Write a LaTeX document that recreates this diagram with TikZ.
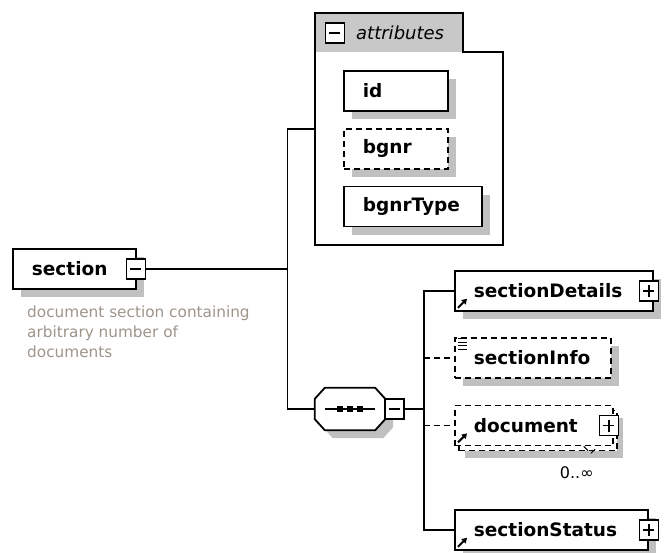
\documentclass[tikz,border=0pt]{standalone}
\usepackage{fontspec}
\setmainfont{DejaVu Sans}
\usepackage{tikz}
\usetikzlibrary{positioning, shadows, arrows.meta}

\definecolor{shadowgray}{RGB}{192,192,192}
\definecolor{hdrgray}{RGB}{200,200,200}
\definecolor{notegray}{RGB}{158,148,138}

\begin{document}
\begin{tikzpicture}[
        x=1pt, y=-1pt,
        every node/.style={inner sep=0pt},
        elembase/.style={
            rectangle, draw=black, fill=white, line width=1.8pt,
            minimum height=40pt, inner xsep=19pt, align=left,
            font=\fontsize{18.5}{22}\selectfont\bfseries
        },
        elem/.style={
            elembase,
            drop shadow={shadow xshift=8pt, shadow yshift=-8pt, fill=shadowgray, opacity=1}
        },
        optional/.style={dash pattern=on 6pt off 4pt},
        toggle/.style={
            rectangle, draw=black, fill=white, line width=1.4pt,
            minimum width=19pt, minimum height=20pt
        },
        minusbox/.style={toggle, path picture={
            \draw[line width=1.4pt] ([xshift=4pt]path picture bounding box.west) -- ([xshift=-4pt]path picture bounding box.east);}},
        plusbox/.style={toggle, path picture={
            \draw[line width=1.4pt] ([xshift=4pt]path picture bounding box.west) -- ([xshift=-4pt]path picture bounding box.east);
            \draw[line width=1.4pt] ([yshift=-4pt]path picture bounding box.north) -- ([yshift=4pt]path picture bounding box.south);}},
        seqbox/.style={rectangle, minimum width=70pt, minimum height=42pt},
        seqline/.style={
            draw=black, fill=white, line width=1.8pt,
            drop shadow={shadow xshift=8pt, shadow yshift=-8pt, fill=shadowgray, opacity=1}
        },
        frame/.style={rectangle, minimum width=188pt, minimum height=232pt},
        hdrtext/.style={font=\fontsize{18}{22}\selectfont\itshape},
        conn/.style={line width=1.8pt},
        refarrow/.style={line width=2pt, -{Triangle[length=5pt, width=6pt]}},
        note/.style={align=left, text=notegray, font=\fontsize{15.3}{20}\selectfont},
        mult/.style={font=\fontsize{16}{20}\selectfont},
    ]
    \useasboundingbox (0,0) rectangle (664,552);

    % attributes group
    \node (attrs) [frame] at (409,129) {};
    \fill[hdrgray] (attrs.north west) rectangle +(148,39);
    \draw[conn] (attrs.north west) -- ++(148,0) -- ++(0,39) -| (attrs.south east) -- (attrs.south west) -- cycle;
    \node (attrminus) [minusbox] at ([shift={(20pt,-20pt)}]attrs.north west) {};
    \node (attrlabel) [hdrtext, right=11pt of attrminus] {attributes};

    \node (id)       [elem, text width=66pt, anchor=north west] at (343,70) {id};
    \node (bgnr)     [elem, optional, text width=66pt, below=16pt of id.south west, anchor=north west] {bgnr};
    \node (bgnrtype) [elem, text width=100pt, below=16pt of bgnr.south west, anchor=north west] {bgnrType};

    % root element
    \node (section)  [elem, text width=85pt, anchor=north west] at (12,248) {section};
    \node (secminus) [minusbox] at ([xshift=-1pt]section.east) {};
    \node (secnote)  [note, anchor=north west] at (27,306)
                     {document section containing\\arbitrary number of\\documents};

    % sequence
    \node (seq)      [seqbox] at (350,409) {};
    \draw[seqline] ([xshift=10pt]seq.north west) -- ([xshift=-10pt]seq.north east)
        -- ([yshift=-11pt]seq.north east) -- ([yshift=11pt]seq.south east)
        -- ([xshift=-10pt]seq.south east) -- ([xshift=10pt]seq.south west)
        -- ([yshift=11pt]seq.south west) -- ([yshift=-11pt]seq.north west) -- cycle;
    \draw[conn] ([xshift=-25pt]seq.center) -- ([xshift=25pt]seq.center);
    \foreach \dx in {-10,0,10}
        \fill ([xshift=\dx pt]seq.center) +(-3,-3) rectangle +(3,3);
    \node (seqminus) [minusbox, right=-1pt of seq] {};

    % children
    \node (secdetails) [elem, text width=160pt, anchor=north west] at (454,270) {sectionDetails};
    \node (secdetplus) [plusbox] at ([xshift=-5pt]secdetails.east) {};
    \node (secinfo)    [elem, optional, text width=118pt, below=25pt of secdetails.south west, anchor=north west] {sectionInfo};
    \node (doc)        [elembase, optional, text width=120pt, below=26pt of secinfo.south west, anchor=north west,
                        drop shadow={shadow xshift=10pt, shadow yshift=-12pt, fill=shadowgray, opacity=1},
                        copy shadow={shadow xshift=4pt, shadow yshift=-5pt, line width=1.8pt, dash pattern=on 6pt off 4pt}] {document};
    \node (docplus)    [plusbox] at ([xshift=-5pt]doc.east) {};
    \node (docmult)    [mult] at ([shift={(-37pt,-26pt)}]doc.south east) {0..∞};
    \node (secstatus)  [elem, text width=155pt, anchor=north west] at (454,509) {sectionStatus};
    \node (secstplus)  [plusbox] at (secstatus.east) {};

    % icons
    \draw[refarrow] ([shift={(4pt,4pt)}]secdetails.south west) -- ++(9,-9);
    \draw[refarrow] ([shift={(4pt,4pt)}]doc.south west) -- ++(9,-9);
    \draw[refarrow] ([shift={(4pt,4pt)}]secstatus.south west) -- ++(9,-9);
    \foreach \dy in {0,3.5,7,10.5}
        \draw[line width=1pt] ([shift={(4pt,-2pt)}]secinfo.north west) ++(0,\dy) -- ++(9,0);
    \draw[line width=1pt, optional] ([xshift=-30pt]doc.south east) -- ++(7,7) -- ++(5,-5);

    % connectors
    \path (secminus.east) -- ++(141.5,0) coordinate (fork);
    \coordinate (fork2) at (424,409);
    \draw[conn] (secminus.east) -- (fork);
    \draw[conn] (attrs.west) -| (fork) |- (seq.west);
    \draw[conn] (seqminus.east) -- (fork2);
    \draw[conn] (secdetails.west) -| (fork2) |- (secstatus.west);
    \draw[conn, optional] (fork2 |- secinfo.west) -- (secinfo.west);
    \draw[conn, optional] (fork2 |- doc.west) -- (doc.west);

\end{tikzpicture}
\end{document}
